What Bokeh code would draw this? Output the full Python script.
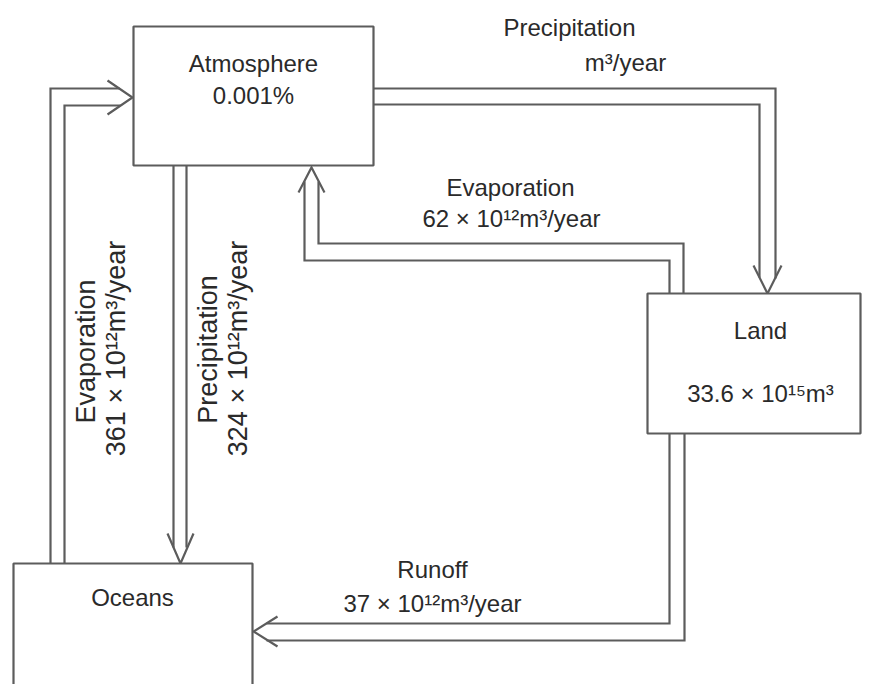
import math
from bokeh.plotting import figure
from bokeh.models import Range1d
from bokeh.core.properties import value
from bokeh.embed import file_html
from bokeh.resources import INLINE

# ---- data: reservoirs and flows of the water cycle ----
reservoirs = ["Atmosphere", "Land", "Oceans"]
reservoir_amounts = ["0.001%", "33.6 × 10¹⁵m³", ""]

flow_names = ["Precipitation", "Evaporation", "Runoff", "Evaporation", "Precipitation"]
flow_amounts = ["m³/year", "62 × 10¹²m³/year", "37 × 10¹²m³/year",
                "361 × 10¹²m³/year", "324 × 10¹²m³/year"]
flow_from = ["Atmosphere", "Land", "Land", "Oceans", "Atmosphere"]
flow_to = ["Land", "Atmosphere", "Oceans", "Atmosphere", "Oceans"]

# ---- layout (pixel coordinates of the diagram) ----
box_geom = {  # left, top, right, bottom
    "Atmosphere": (133, 26, 373, 165),
    "Land": (647, 293, 860, 433),
    "Oceans": (13, 563, 252, 715),
}
name_pos = {"Atmosphere": (253, 63), "Land": (760, 330), "Oceans": (132, 597)}
amount_pos = {"Atmosphere": (253, 95), "Land": (760, 393), "Oceans": (132, 630)}

# each flow: two parallel line paths + chevron head + label positions/angle
flow_geom = [
    dict(lines=[([373, 775, 775], [88, 88, 278]), ([373, 759, 759], [104, 104, 277])],
         head=([753, 767, 781], [265, 293, 265]),
         name_xy=(569, 27), amount_xy=(625, 62), angle=0, size="24px"),
    dict(lines=[([683, 683, 318, 318], [293, 243, 243, 181]),
                ([669, 669, 304, 304], [293, 260, 260, 181])],
         head=([298, 311, 324], [192, 167, 192]),
         name_xy=(510, 187), amount_xy=(511, 218), angle=0, size="24px"),
    dict(lines=[([669, 669, 266], [433, 623, 623]), ([684, 684, 266], [433, 640, 640])],
         head=([277, 253, 277], [616, 631, 646]),
         name_xy=(432, 569), amount_xy=(432, 603), angle=0, size="24px"),
    dict(lines=[([50, 50, 119], [563, 88, 88]), ([64, 64, 120], [563, 105, 105])],
         head=([107, 132, 107], [80, 97, 114]),
         name_xy=(85, 351), amount_xy=(115, 348), angle=math.pi / 2, size="27px"),
    dict(lines=[([173, 173], [165, 547]), ([186, 186], [165, 547])],
         head=([167, 180, 193], [533, 563, 533]),
         name_xy=(207, 349), amount_xy=(237, 348), angle=math.pi / 2, size="27px"),
]

LINE = "#5c5c5c"
TEXT = "#2a2a2a"
FONT = value("Liberation Sans")

p = figure(width=862, height=684, x_range=Range1d(0, 862), y_range=Range1d(684, 0),
           output_backend="svg", toolbar_location=None, min_border=0,
           x_axis_location=None, y_axis_location=None, tools="")
p.grid.visible = False
p.outline_line_color = None
p.background_fill_color = "white"

# arrows
for g in flow_geom:
    xs = [l[0] for l in g["lines"]] + [g["head"][0]]
    ys = [l[1] for l in g["lines"]] + [g["head"][1]]
    p.multi_line(xs=xs, ys=ys, line_color=LINE, line_width=2.2,
                 line_join="miter", line_cap="butt")

# reservoir boxes
for name in reservoirs:
    l, t, r, b = box_geom[name]
    p.quad(left=[l], right=[r], top=[t], bottom=[b], fill_color="white",
           line_color=LINE, line_width=2.2)

# reservoir labels
for name, amt in zip(reservoirs, reservoir_amounts):
    nx, ny = name_pos[name]
    p.text(x=[nx], y=[ny], text=[name], text_font=FONT, text_font_size="24px",
           text_color=TEXT, text_align="center", text_baseline="middle")
    if amt:
        ax, ay = amount_pos[name]
        p.text(x=[ax], y=[ay], text=[amt], text_font=FONT, text_font_size="24px",
               text_color=TEXT, text_align="center", text_baseline="middle")

# flow labels
for g, nm, amt in zip(flow_geom, flow_names, flow_amounts):
    for (x, y), txt in ((g["name_xy"], nm), (g["amount_xy"], amt)):
        p.text(x=[x], y=[y], text=[txt], angle=g["angle"], text_font=FONT,
               text_font_size=g["size"], text_color=TEXT,
               text_align="center", text_baseline="middle")

open("out.html", "w").write(file_html(p, INLINE))
